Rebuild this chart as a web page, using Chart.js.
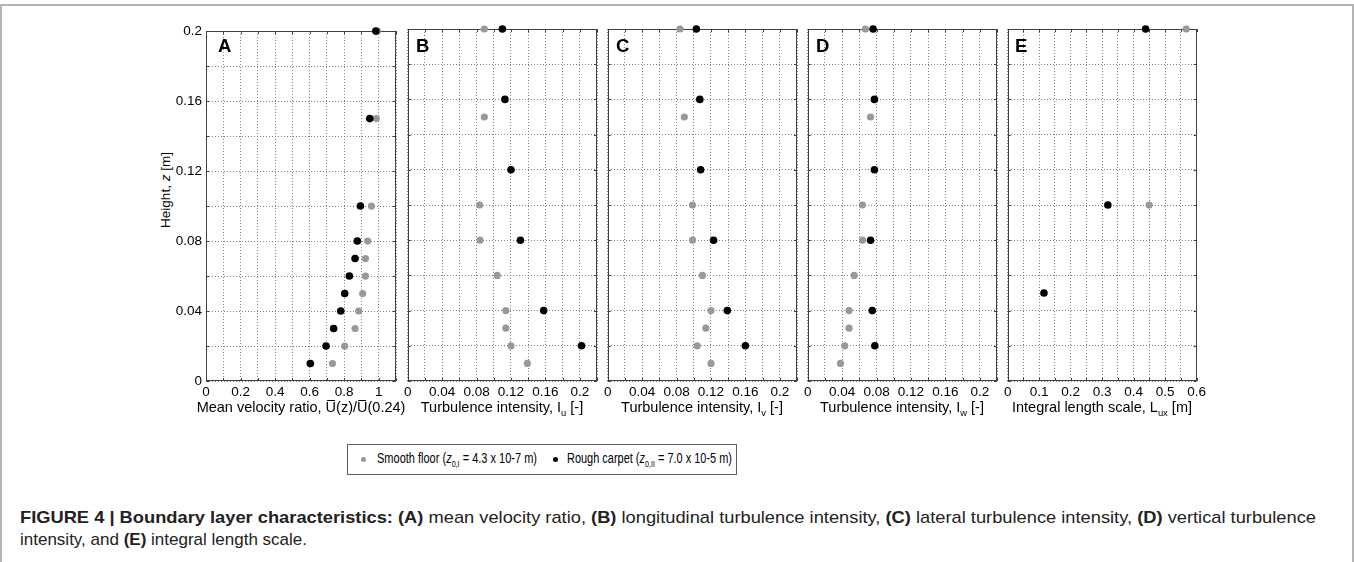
<!DOCTYPE html>
<html>
<head>
<meta charset="utf-8">
<script src="https://cdn.jsdelivr.net/npm/chart.js@4.4.1/dist/chart.umd.min.js"></script>
<style>
  body { margin:0; width:1354px; height:562px; overflow:hidden; position:relative; background:#fff;
         font-family:"Liberation Sans", Arial, sans-serif; color:#000; }
  .frame { position:absolute; left:0; top:4px; width:1350px; height:600px; border:2px solid #b4b4b4; border-bottom:none; }
  canvas.panel { position:absolute; }
  .letter { position:absolute; top:37px; font-size:18.5px; font-weight:bold; line-height:1; }
  .xtitle { position:absolute; top:399px; width:280px; text-align:center; font-size:14.5px; line-height:16px; white-space:nowrap; }
  .ytitle { position:absolute; left:165px; top:190px; font-size:13.5px; white-space:nowrap; transform:translate(-50%,-50%) rotate(-90deg); }
  .ov { position:relative; }
  .ov::after { content:''; position:absolute; left:1px; right:1px; top:1px; border-top:1px solid #000; }
  sub { font-size:0.65em; vertical-align:-0.4em; line-height:0; }
  #legend { position:absolute; left:347px; top:444px; width:388px; height:29px; border:1px solid #606060; }
  .dot { position:absolute; width:5px; height:5px; border-radius:50%; top:12px; }
  .lt { position:absolute; top:5px; font-size:14px; white-space:nowrap; transform-origin:0 50%; color:#000; }
  .cap { position:absolute; left:20px; font-size:17px; white-space:nowrap; transform-origin:0 50%; color:#222; }
</style>
</head>
<body>
<div class="frame"></div>

<div class="ytitle">Height, <i>z</i> [m]</div>

<div id="legend">
  <span class="dot" style="left:13px;background:#9a9a9a"></span>
  <span class="lt" id="lt1" style="left:29px">Smooth floor (<i>z</i><sub>0,I</sub> = 4.3 x 10-7 m)</span>
  <span class="dot" style="left:205px;background:#000"></span>
  <span class="lt" id="lt2" style="left:219px">Rough carpet (<i>z</i><sub>0,II</sub> = 7.0 x 10-5 m)</span>
</div>

<div class="cap" id="cap1" style="top:508px"><b>FIGURE 4 | Boundary layer characteristics: (A)</b> mean velocity ratio, <b>(B)</b> longitudinal turbulence intensity, <b>(C)</b> lateral turbulence intensity, <b>(D)</b> vertical turbulence</div>
<div class="cap" id="cap2" style="top:530px">intensity, and <b>(E)</b> integral length scale.</div>

<script>
// measurement heights [m]
const heights       = [0.01, 0.02, 0.03, 0.04, 0.05, 0.06, 0.07, 0.08, 0.1, 0.15, 0.2];
const tiZSmooth     = [0.01, 0.02, 0.03, 0.04, 0.06, 0.08, 0.1, 0.15, 0.2];
const tiZRough      = [0.02, 0.04, 0.08, 0.12, 0.16, 0.2];
const lenZSmooth    = [0.1, 0.2];
const lenZRough     = [0.05, 0.1, 0.2];

// mean velocity ratio U(z)/U(0.24)
const velSmooth = [0.732, 0.803, 0.863, 0.884, 0.907, 0.923, 0.923, 0.936, 0.958, 0.986, 0.992];
const velRough  = [0.604, 0.695, 0.739, 0.780, 0.803, 0.830, 0.863, 0.876, 0.894, 0.948, 0.983];

// turbulence intensities
const iuSmooth = [0.139, 0.120, 0.114, 0.114, 0.104, 0.084, 0.0835, 0.089, 0.089];
const iuRough  = [0.202, 0.158, 0.131, 0.120, 0.113, 0.110];
const ivSmooth = [0.120, 0.104, 0.114, 0.120, 0.110, 0.0985, 0.0985, 0.089, 0.084];
const ivRough  = [0.160, 0.139, 0.123, 0.108, 0.107, 0.103];
const iwSmooth = [0.038, 0.043, 0.048, 0.048, 0.054, 0.0635, 0.0635, 0.073, 0.067];
const iwRough  = [0.078, 0.075, 0.073, 0.0775, 0.0775, 0.076];

// integral length scale L_ux [m]
const luxSmooth = [0.449, 0.567];
const luxRough  = [0.115, 0.318, 0.438];

// tick labels (every second grid line carries a label)
const heightTicks = ['0', '0.04', '0.08', '0.12', '0.16', '0.2'];
const velTicks    = ['0', '0.2', '0.4', '0.6', '0.8', '1'];
const tiTicks     = ['0', '0.04', '0.08', '0.12', '0.16', '0.2'];
const lenTicks    = ['0', '0.1', '0.2', '0.3', '0.4', '0.5', '0.6'];

const SMOOTH = '#999999', ROUGH = '#000000';

Chart.defaults.font.family = "'Liberation Sans', Arial, sans-serif";
Chart.defaults.font.size = 13.5;
Chart.defaults.color = '#000';

const plotTop = 29, plotW = 190, plotH = 352;
const padTop = 10, padRight = 12, xAxisH = 22;

// box around the axes plus short inward tick marks
const boxPlugin = {
  id: 'box',
  beforeDatasetsDraw(chart) {
    const { ctx, chartArea: a, scales } = chart;
    ctx.save();
    ctx.strokeStyle = '#404040';
    ctx.lineWidth = 1;
    ctx.beginPath();
    scales.x.ticks.forEach(t => {
      const px = Math.round(scales.x.getPixelForValue(t.value)) + 0.5;
      ctx.moveTo(px, a.top); ctx.lineTo(px, a.top + 3);
      ctx.moveTo(px, a.bottom); ctx.lineTo(px, a.bottom - 3);
    });
    scales.y.ticks.forEach(t => {
      const py = Math.round(scales.y.getPixelForValue(t.value)) + 0.5;
      ctx.moveTo(a.left, py); ctx.lineTo(a.left + 3, py);
      ctx.moveTo(a.right, py); ctx.lineTo(a.right - 3, py);
    });
    ctx.stroke();
    ctx.strokeRect(Math.round(a.left) + 0.5, Math.round(a.top) + 0.5, Math.round(a.width) - 1, Math.round(a.height) - 1);
    ctx.restore();
  }
};

function points(xs, zs) {
  return zs.map((z, i) => ({ x: xs[i], y: z }));
}

function makePanel(p) {
  const yW = p.showY ? 44 : 6;
  const cv = document.createElement('canvas');
  cv.className = 'panel';
  cv.width = yW + plotW + padRight;
  cv.height = padTop + plotH + xAxisH;
  cv.style.left = (p.left - yW) + 'px';
  cv.style.top = (plotTop - padTop) + 'px';
  document.body.appendChild(cv);

  new Chart(cv, {
    type: 'scatter',
    data: {
      datasets: [
        { label: 'Rough carpet', data: points(p.rough, p.zRough), backgroundColor: ROUGH, borderColor: ROUGH,
          pointRadius: 3.8, borderWidth: 0, clip: false },
        { label: 'Smooth floor', data: points(p.smooth, p.zSmooth), backgroundColor: SMOOTH, borderColor: SMOOTH,
          pointRadius: 3.6, borderWidth: 0, clip: false }
      ]
    },
    options: {
      responsive: false,
      animation: false,
      events: [],
      layout: { padding: { top: padTop, right: padRight, left: 0, bottom: 0 } },
      plugins: { legend: { display: false }, tooltip: { enabled: false } },
      scales: {
        x: {
          type: 'linear', min: 0, max: p.xMax,
          afterFit: s => { s.height = xAxisH; },
          grid: { color: '#808080', lineWidth: 1, drawTicks: false },
          border: { display: false, dash: [1, 2] },
          ticks: {
            stepSize: p.step, autoSkip: false, maxRotation: 0, padding: 3,
            callback: (v, i) => (i % 2 === 0 ? (p.ticks[i / 2] ?? '') : '')
          }
        },
        y: {
          type: 'linear', min: 0, max: 0.2,
          afterFit: s => { s.width = yW; },
          grid: { color: '#808080', lineWidth: 1, drawTicks: false },
          border: { display: false, dash: [1, 2] },
          ticks: {
            display: p.showY, stepSize: 0.02, autoSkip: false, padding: 4,
            callback: (v, i) => (i % 2 === 0 ? (heightTicks[i / 2] ?? '') : '')
          }
        }
      }
    },
    plugins: [boxPlugin]
  });

  const letter = document.createElement('div');
  letter.className = 'letter';
  letter.textContent = p.id;
  letter.style.left = (p.left + p.letterDx) + 'px';
  document.body.appendChild(letter);

  const title = document.createElement('div');
  title.className = 'xtitle';
  title.innerHTML = p.title;
  title.style.left = (p.left + plotW / 2 - 140) + 'px';
  document.body.appendChild(title);
}

const panels = [
  { id: 'A', left: 206, letterDx: 12, showY: true, xMax: 1.1, step: 0.1, ticks: velTicks,
    smooth: velSmooth, zSmooth: heights, rough: velRough, zRough: heights,
    title: 'Mean velocity ratio, <span class="ov">U</span>(z)/<span class="ov">U</span>(0.24)' },
  { id: 'B', left: 407, letterDx: 9, showY: false, xMax: 0.22, step: 0.02, ticks: tiTicks,
    smooth: iuSmooth, zSmooth: tiZSmooth, rough: iuRough, zRough: tiZRough,
    title: 'Turbulence intensity, I<sub>u</sub> [-]' },
  { id: 'C', left: 607, letterDx: 9, showY: false, xMax: 0.22, step: 0.02, ticks: tiTicks,
    smooth: ivSmooth, zSmooth: tiZSmooth, rough: ivRough, zRough: tiZRough,
    title: 'Turbulence intensity, I<sub>v</sub> [-]' },
  { id: 'D', left: 807, letterDx: 9, showY: false, xMax: 0.22, step: 0.02, ticks: tiTicks,
    smooth: iwSmooth, zSmooth: tiZSmooth, rough: iwRough, zRough: tiZRough,
    title: 'Turbulence intensity, I<sub>w</sub> [-]' },
  { id: 'E', left: 1007, letterDx: 8, showY: false, xMax: 0.6, step: 0.05, ticks: lenTicks,
    smooth: luxSmooth, zSmooth: lenZSmooth, rough: luxRough, zRough: lenZRough,
    title: 'Integral length scale, L<sub>ux</sub> [m]' }
];

panels.forEach(makePanel);

// squeeze a text run horizontally to a given width
function fitWidth(id, w) {
  const el = document.getElementById(id);
  const natural = el.getBoundingClientRect().width;
  el.style.transform = 'scaleX(' + (w / natural) + ')';
}
fitWidth('lt1', 160);
fitWidth('lt2', 165);
fitWidth('cap1', 1296);
</script>
</body>
</html>
